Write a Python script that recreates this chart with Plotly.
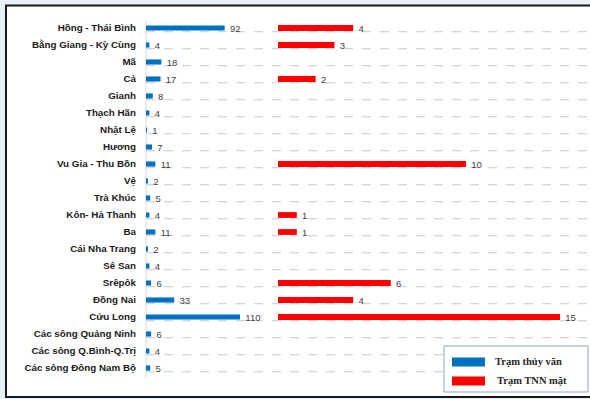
import plotly.graph_objects as go

# River basins (top to bottom)
basins = [
    "Hồng - Thái Bình", "Bằng Giang - Kỳ Cùng", "Mã", "Cả", "Gianh", "Thạch Hãn",
    "Nhật Lệ", "Hương", "Vu Gia - Thu Bồn", "Vệ", "Trà Khúc", "Kôn- Hà Thanh", "Ba",
    "Cái Nha Trang", "Sê San", "Srêpôk", "Đồng Nai", "Cửu Long",
    "Các sông Quảng Ninh", "Các sông Q.Bình-Q.Trị", "Các sông Đông Nam Bộ",
]
# Hydrological stations per basin
hydro_stations = [92, 4, 18, 17, 8, 4, 1, 7, 11, 2, 5, 4, 11, 2, 4, 6, 33, 110, 6, 4, 5]
# Surface water-resource stations per basin (None = no station)
surface_stations = [4, 3, None, 2, None, None, None, None, 10, None, None, 1, 1,
                    None, None, 6, 4, 15, None, None, None]

series_names = ["Trạm thủy văn", "Trạm TNN mặt"]
blue = "#0070C0"
red = "#FF0000"

W, H = 590, 399
rows = list(range(len(basins)))
PAD = "\u00a0\u00a0"  # small gap between bar end and its value

def py(px):
    return 1 - px / H

def pxx(px):
    return px / W

fig = go.Figure()

fig.add_trace(go.Bar(
    y=rows, x=hydro_stations, orientation="h", width=0.3,
    marker=dict(color=blue, line=dict(width=0)),
    text=[PAD + str(v) for v in hydro_stations], textposition="outside",
    constraintext="none",
    textfont=dict(family="Liberation Sans", size=9.5, color="#404040"),
    cliponaxis=False, xaxis="x", yaxis="y", showlegend=False,
))
fig.add_trace(go.Bar(
    y=rows, x=surface_stations, orientation="h", width=0.34,
    marker=dict(color=red, line=dict(width=0)),
    text=["" if v is None else PAD + str(v) for v in surface_stations],
    textposition="outside", constraintext="none",
    textfont=dict(family="Liberation Sans", size=9.5, color="#404040"),
    cliponaxis=False, xaxis="x2", yaxis="y2", showlegend=False,
))

pitch = 17.0
top_px, bot_px = 11.0, 390.0
y_top = -1.0
y_bot = y_top + (bot_px - top_px) / pitch
yrange = [y_bot, y_top]
ydom = [py(bot_px), py(top_px)]

shapes = []
# white framed panel on a pale blue page
shapes.append(dict(type="rect", xref="paper", yref="paper",
                   x0=pxx(6), x1=pxx(600), y0=py(397), y1=py(5.5),
                   fillcolor="white", line=dict(color="#1a1a1a", width=2), layer="below"))
# dashed row separators
for i in rows:
    shapes.append(dict(type="line", xref="paper", yref="y",
                       x0=pxx(146), x1=1.0, y0=i + 0.22, y1=i + 0.22,
                       line=dict(color="#c8c8c8", width=1, dash="dash"), layer="below"))
# category axis line
shapes.append(dict(type="line", xref="paper", yref="paper",
                   x0=pxx(146), x1=pxx(146), y0=py(378), y1=py(21),
                   line=dict(color="#d9d9d9", width=1), layer="below"))
# legend box and swatches
shapes.append(dict(type="rect", xref="paper", yref="paper",
                   x0=pxx(444), x1=pxx(588), y0=py(392), y1=py(346),
                   fillcolor="white", line=dict(color="#8ea4c0", width=1)))
shapes.append(dict(type="rect", xref="paper", yref="paper",
                   x0=pxx(452), x1=pxx(485), y0=py(366.5), y1=py(357.5),
                   fillcolor=blue, line=dict(width=0)))
shapes.append(dict(type="rect", xref="paper", yref="paper",
                   x0=pxx(452), x1=pxx(485), y0=py(385.5), y1=py(376.5),
                   fillcolor=red, line=dict(width=0)))

annotations = [
    dict(text="<b>%s</b>" % series_names[0], xref="paper", yref="paper",
         x=pxx(493), y=py(361), xanchor="left", yanchor="middle", showarrow=False,
         font=dict(family="Liberation Serif", size=10.5, color="#262626")),
    dict(text="<b>%s</b>" % series_names[1], xref="paper", yref="paper",
         x=pxx(495), y=py(380.5), xanchor="left", yanchor="middle", showarrow=False,
         font=dict(family="Liberation Serif", size=10.5, color="#262626")),
]

fig.update_layout(
    width=W, height=H,
    margin=dict(l=0, r=0, t=0, b=0),
    paper_bgcolor="#e6f0f8",
    plot_bgcolor="rgba(0,0,0,0)",
    barmode="overlay",
    showlegend=False,
    shapes=shapes,
    annotations=annotations,
    xaxis=dict(domain=[pxx(146), pxx(270)], range=[0, 124 / 0.855],
               visible=False, fixedrange=True),
    xaxis2=dict(domain=[pxx(278), 1.0], range=[0, 312 / 18.8],
                visible=False, fixedrange=True, anchor="y2"),
    yaxis=dict(domain=ydom, range=yrange, tickmode="array", tickvals=rows,
               ticktext=["<b>%s</b>" % b for b in basins], ticks="",
               ticklabelstandoff=9, showgrid=False, zeroline=False, showline=False,
               tickfont=dict(family="Liberation Sans", size=9.8, color="#1a1a1a"),
               fixedrange=True),
    yaxis2=dict(domain=ydom, range=yrange, anchor="x2", visible=False,
                showgrid=False, fixedrange=True),
)

fig.write_html("out.html")
